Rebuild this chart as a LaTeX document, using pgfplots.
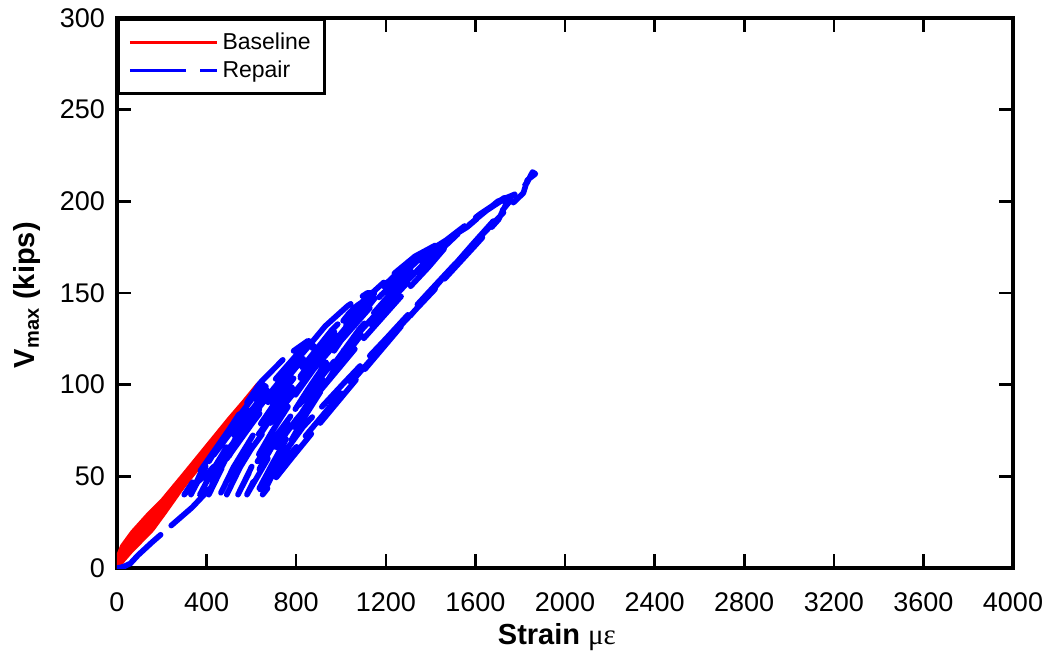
\documentclass[border=0pt]{standalone}
\usepackage{fontspec}
\setmainfont{Liberation Sans}
\newfontfamily\greekfont{Liberation Serif}
\usepackage{pgfplots}
\pgfplotsset{compat=1.18}
\begin{document}
\begin{tikzpicture}
\begin{axis}[
  at={(0,0)}, anchor=south west,
  scale only axis, width=448pt, height=275pt,
  xmin=0, xmax=4000, ymin=0, ymax=300,
  xtick={0,400,...,4000}, ytick={0,50,...,300},
  tick align=inside, major tick length=7pt,
  axis line style={line width=2pt},
  every tick/.style={line width=1.3pt, black},
  ticklabel style={font=\fontsize{13.5}{13.5}\selectfont},
  /pgf/number format/assume math mode=true,
  /pgf/number format/1000 sep={},
  xticklabel style={yshift=-9pt},
  yticklabel style={xshift=-2.5pt},
  xlabel={\fontsize{14.5}{14.5}\selectfont\bfseries Strain {\mdseries\greekfont με}},
  ylabel={\fontsize{14.5}{14.5}\selectfont\bfseries V\textsubscript{\fontsize{10}{10}\selectfont max} (kips)},
  xlabel style={at={(axis description cs:0.491,-0.125)}, anchor=center},
  ylabel style={at={(axis description cs:-0.1004,0.496)}, anchor=center},
  legend style={at={(0,1)}, anchor=north west, draw=black, line width=1.5pt,
    font=\fontsize{11.5}{13}\selectfont, inner xsep=5pt, inner ysep=4.5pt,
    row sep=0.3pt, cells={anchor=west}},
  legend image code/.code={\draw[#1, line width=1.5pt, line cap=butt] (0pt,0pt) -- (43.5pt,0pt);},
  legend cell align=left,
]
\addplot[red, line width=2.5pt, line join=round, line cap=round] coordinates {
(0,0) (2,3) (8,7) (25,12) (70,19.5) (140,29) (205,37) (300,51) (400,66) (500,81) (570,91) (630,100)
(625,98) (560,88) (500,78) (420,66) (340,53) (268,40) (210,30) (156,21) (100,14) (60,9) (27,4.4) (15,2.5) (0,0)
(10,3.5) (40,8.5) (100,16) (170,26) (240,36) (330,50) (430,65) (520,80) (590,92) (615,96)
(600,92) (510,78) (400,61) (300,46) (210,33) (130,22) (70,15) (25,9) (6,4) (0,0)
(4,4) (18,9) (50,14) (110,22) (180,31) (250,40) (350,54) (450,69) (540,83) (600,93)
(580,88) (480,73) (380,58) (280,43) (230,35) (180,27) (120,18) (80,12) (40,6.5) (0,0)
};
\addlegendentry{Baseline}
\addplot[blue, line width=2.8pt, line join=round, line cap=round, dash pattern=on 28pt off 7pt] coordinates {
(0,0) (15,0.3) (35,1) (60,2.5) (94,7) (156,14) (250,24) (335,33) (420,44)
(480,58) (530,71) (575,82) (595,85) (610,84)
(560,75) (480,62) (400,51) (330,44) (300,40)
(360,51) (440,65) (520,79) (595,91) (650,100) (665,99)
(600,89) (520,76) (440,63) (370,51) (330,40)
(390,54) (460,68) (540,83) (639,101) (760,116) (853,124) (870,123)
(800,113) (700,98) (600,82) (500,65) (420,52) (370,40)
(430,54) (510,70) (600,86) (700,102) (800,116) (865,122) (880,121)
(810,111) (710,96) (610,80) (510,63) (440,51) (410,40)
(470,55) (560,73) (660,91) (780,110) (930,132) (1030,143) (1117,150) (1150,150)
(1080,140) (980,127) (860,110) (740,91) (620,71) (520,55) (460,40)
(520,55) (610,73) (710,91) (830,110) (960,130) (1070,143) (1130,148) (1150,147)
(1080,136) (960,120) (840,103) (720,85) (600,65) (520,50) (490,40)
(550,55) (640,73) (750,93) (880,115) (1030,138) (1211,158) (1330,170) (1421,176) (1440,175)
(1370,166) (1250,151) (1100,131) (950,110) (800,87) (680,67) (590,52) (540,40)
(600,55) (690,74) (800,95) (940,119) (1100,143) (1260,162) (1400,174) (1445,176) (1460,174)
(1390,164) (1260,147) (1100,125) (950,103) (800,81) (680,61) (580,40)
(640,55) (730,74) (850,97) (1000,124) (1180,149) (1380,172) (1564,186) (1650,195) (1712,200) (1747,201)
(1703,190) (1600,176) (1450,156) (1280,134) (1100,109) (930,85) (780,63) (660,46) (620,40)
(690,56) (790,78) (920,103) (1080,130) (1260,155) (1450,177) (1620,193) (1730,202) (1760,201)
(1700,192) (1590,177) (1440,156) (1270,132) (1090,106) (920,81) (780,60) (650,40)
(720,57) (830,81) (970,108) (1140,135) (1330,160) (1520,182) (1700,200) (1779,204) (1830,210) (1855,216) (1868,215)
(1832,211.6) (1814,204.5) (1750,197) (1609,179) (1388,150) (1200,125) (1006,100) (831,77) (700,55) (660,45)
};
\addlegendentry{Repair}
\end{axis}
\pgfresetboundingbox
\path[use as bounding box] ([shift={(-58.5pt,-43pt)}]current axis.south west) rectangle ([shift={(18.5pt,9pt)}]current axis.north east);
\end{tikzpicture}
\end{document}
